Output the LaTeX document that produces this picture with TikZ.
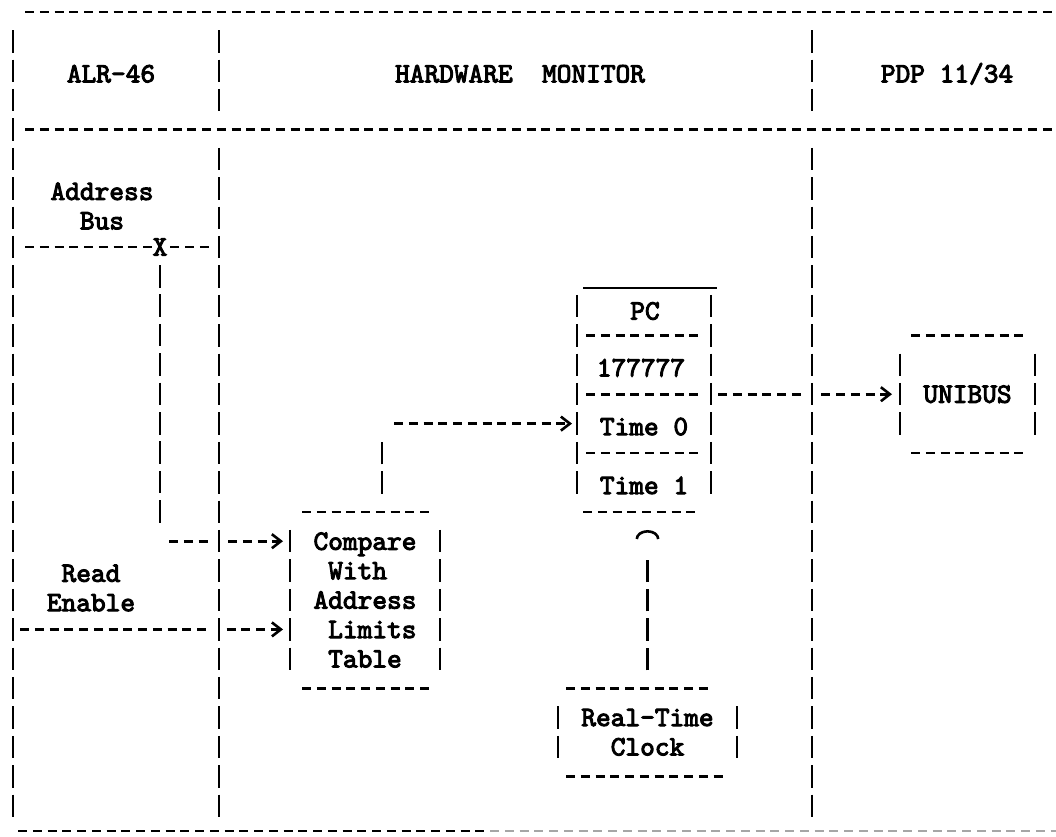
\documentclass[tikz,border=0pt]{standalone}
\usepackage{fontspec}
\newfontfamily\typewr{lmmono10-regular}[Extension=.otf, FakeBold=3.5]
\usetikzlibrary{arrows.meta}
\newcommand\blankch{\hphantom{0}}
\begin{document}
\begin{tikzpicture}[x=1pt,y=-1pt,
  hd/.style={line width=2.6pt, dash pattern=on 9pt off 5.75pt},
  vd/.style={line width=2.5pt, dash pattern=on 22.5pt off 6.9pt},
  txt/.style={font=\fontsize{28}{29.4}\selectfont\typewr\bfseries, inner sep=0pt, outer sep=0pt},
  boxn/.style={txt, draw=none},
  tipS/.style={-{Straight Barb[length=9pt,width=14pt,line width=2.6pt]}},
  skipA/.style={dash pattern=on 9pt off 5.75pt on 9pt off 5.75pt on 9pt off 20.5pt on 9pt off 5.75pt on 9pt off 5.75pt on 9pt off 5.75pt on 9pt off 5.75pt},
  skipR/.style={dash pattern=on 9pt off 5.75pt on 9pt off 5.75pt on 9pt off 5.75pt on 9pt off 5.75pt on 9pt off 5.75pt on 9pt off 5.75pt on 9pt off 5.75pt on 9pt off 5.75pt on 9pt off 5.75pt on 9pt off 5.75pt on 9pt off 5.75pt on 9pt off 5.75pt on 9pt off 20.5pt on 9pt off 5.75pt on 9pt off 5.75pt on 9pt off 5.75pt on 9pt off 5.75pt on 9pt off 5.75pt},
  skipU/.style={dash pattern=on 9pt off 5.75pt on 9pt off 5.75pt on 9pt off 5.75pt on 9pt off 5.75pt on 9pt off 5.75pt on 9pt off 20.5pt on 9pt off 5.75pt on 9pt off 5.75pt on 9pt off 5.75pt on 9pt off 5.75pt},
  clkd/.style={line width=2.5pt, dash pattern=on 22.5pt off 6.9pt on 22.5pt off 6.9pt on 22.5pt off 6.9pt on 22.5pt off 80pt},
  arcT/.style={-{Arc Barb[length=9pt,width=24pt,line width=2.6pt]}}
]
\path[use as bounding box] (0,0) rectangle (1056,836);

% ---- frame ----
\draw[hd] (25,12) -- (1056,12);
\draw[hd] (25,129.6) -- (1056,129.6);
\draw[hd] (18,831) -- (490,831);
\draw[hd, black!35] (490,831) -- (1056,831);
\draw[vd] (13,30.15) -- (13,817.05);
\draw[vd] (219,30.15) -- (219,111.45);
\draw[vd] (219,147.75) -- (219,817.05);
\draw[vd] (812,30.15) -- (812,111.45);
\draw[vd] (812,147.75) -- (812,817.05);

% ---- lane titles ----
\node[txt] (alr) at (111,73.8) {ALR-46};
\node[txt] (hwm) at (520,73.8) {HARDWARE\blankch\blankch MONITOR};
\node[txt] (pdp) at (947,73.8) {PDP 11/34};

% ---- ALR-46 lane ----
\node[txt, align=center] (abus) at (102,206) {Address\\Bus};
\node[txt] (X) at (160,247) {X};
\node[txt, align=center] (renable) at (91,588) {Read\\Enable};

% ---- boxes ----
\node[boxn, minimum width=150pt, minimum height=176.4pt, align=left] (cmp) at (365,600)
  {Compare\\\blankch With\\Address\\\blankch Limits\\\blankch Table};
\draw[hd] ([xshift=12pt]cmp.north west) -- ([xshift=-11pt]cmp.north east);
\draw[hd] ([xshift=12pt]cmp.south west) -- ([xshift=-11pt]cmp.south east);
\draw[vd] ([yshift=-18.15pt]cmp.north west) -- ([yshift=18.15pt]cmp.south west);
\draw[vd] ([yshift=-18.15pt]cmp.north east) -- ([yshift=18.15pt]cmp.south east);

\node[boxn, minimum width=134pt, minimum height=223.8pt] (pc) at (644,399.9) {};
\draw[line width=2.4pt] ([xshift=6pt]pc.north west) -- ([xshift=6pt]pc.north east);
\draw[vd] ([yshift=-6.75pt]pc.north west) -- ([yshift=18.15pt]pc.south west);
\draw[vd] ([yshift=-6.75pt]pc.north east) -- ([yshift=18.15pt]pc.south east);
\draw[hd] (586,335.4) -- (699,335.4);
\draw[hd] (586,394.2) -- (699,394.2);
\draw[hd] (586,453) -- (699,453);
\draw[hd] ([xshift=6pt]pc.south west) -- ([xshift=-16pt]pc.south east);
\node[txt] (pcl) at (645,311) {PC};
\node[txt] (pcv) at (641,367.8) {177777};
\node[txt] (t0) at (644,426.6) {Time 0};
\node[txt] (t1) at (644,485.4) {Time 1};

\node[boxn, minimum width=135pt, minimum height=117.6pt] (uni) at (967.5,394.2) {UNIBUS};
\draw[hd] ([xshift=11pt]uni.north west) -- ([xshift=-11pt]uni.north east);
\draw[hd] ([xshift=11pt]uni.south west) -- ([xshift=-11pt]uni.south east);
\draw[vd] ([yshift=-18.15pt]uni.north west) -- ([yshift=18.15pt]uni.south west);
\draw[vd] ([yshift=-18.15pt]uni.north east) -- ([yshift=18.15pt]uni.south east);

\node[boxn, minimum width=179pt, minimum height=88.2pt, align=center] (clk) at (647.5,732.3) {Real-Time\\Clock};
\draw[hd] ([xshift=8pt]clk.north west) -- ([xshift=-29pt]clk.north east);
\draw[hd] ([xshift=8pt]clk.south west) -- ([xshift=-14pt]clk.south east);
\draw[vd] ([yshift=-18.15pt]clk.north west) -- ([yshift=18.15pt]clk.south west);
\draw[vd] ([yshift=-18.15pt]clk.north east) -- ([yshift=18.15pt]clk.south east);

% ---- connectors ----
\coordinate (busL) at (25,247);
\coordinate (busR) at (209,247);
\draw[hd] (busL) -- (X.west);
\draw[hd] ([xshift=3pt]X.east) -- (busR);

\coordinate (xdown) at (160,523.05);
\coordinate (xturn) at (169,541.2);
\draw[vd] ([yshift=-18pt]X.center) -- (xdown);
\draw[hd, skipA, tipS, shorten >=7pt] (xturn) -- (cmp.west |- xturn);

\coordinate (reL) at (20,629.4);
\draw[hd, skipR, tipS, shorten >=7pt] (reL) -- (cmp.west |- reL);

\coordinate (cmpup) at (382,493.65);
\coordinate (cmptop) at (382,441.75);
\coordinate (cmpturn) at (394,423.6);
\draw[vd] (cmpup) -- (cmptop);
\draw[hd, tipS, shorten >=5pt] (cmpturn) -- (pc.west |- cmpturn);

\coordinate (pcout) at (718,394.2);
\draw[hd, skipU, tipS, shorten >=8pt] (pcout) -- (uni.west |- pcout);

\draw[clkd, arcT, shorten <=17.95pt, shorten >=18.2pt] (clk.north) -- (clk.north |- pc.south);
\end{tikzpicture}
\end{document}
